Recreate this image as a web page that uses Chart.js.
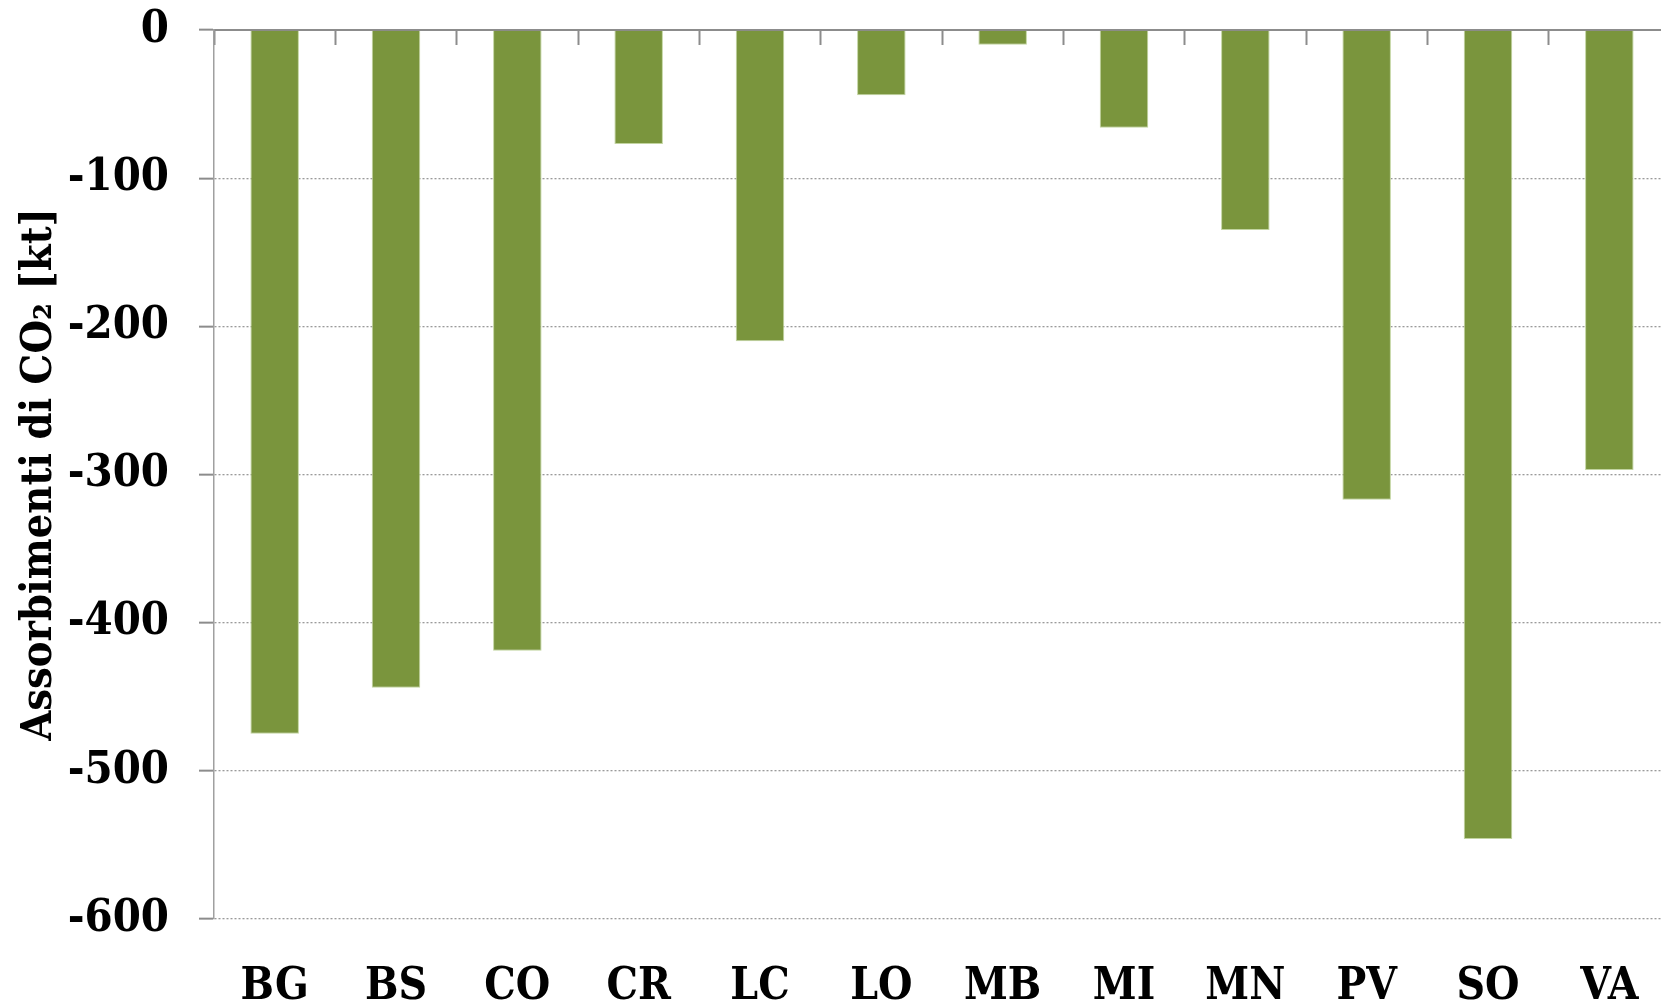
<!DOCTYPE html>
<html>
<head>
<meta charset="utf-8">
<script src="https://cdn.jsdelivr.net/npm/chart.js@4.4.1/dist/chart.umd.min.js"></script>
<style>
  html, body { margin: 0; padding: 0; background: #fff; overflow: hidden; }
  #wrap { position: absolute; left: 0; top: 0; width: 1700px; height: 1001px; }
</style>
</head>
<body>
<div id="wrap"><canvas id="chart"></canvas></div>
<script>
const PROVINCES = ['BG', 'BS', 'CO', 'CR', 'LC', 'LO', 'MB', 'MI', 'MN', 'PV', 'SO', 'VA'];
const ABSORPTION = [-475, -444, -419, -77, -210, -44, -10, -66, -135, -317, -546, -297];
const Y_MIN = -600, Y_MAX = 0, Y_STEP = 100;

const SERIF = '"DejaVu Serif Condensed", "DejaVu Serif", serif';
const AXIS_GREY = '#8c8c8c';

new Chart(document.getElementById('chart'), {
  type: 'bar',
  data: {
    labels: PROVINCES,
    datasets: [{
      data: ABSORPTION,
      backgroundColor: '#7a953d',
      borderColor: '#c2d4a0',
      borderWidth: 1,
      barPercentage: 0.4,
      categoryPercentage: 1,
      xAxisID: 'x',
      yAxisID: 'y'
    }]
  },
  options: {
    responsive: true,
    maintainAspectRatio: false,
    animation: false,
    layout: { padding: { top: 30, right: 30, left: 0, bottom: 0 } },
    plugins: { legend: { display: false }, tooltip: { enabled: false } },
    scales: {
      x: {
        position: 'bottom',
        offset: true,
        grid: { display: false },
        border: { display: false },
        ticks: { color: '#000', padding: 34, maxRotation: 0, font: { family: SERIF, weight: 'bold', size: 44 } },
        afterFit: s => { s.height = 82; }
      },
      x2: {
        type: 'category',
        position: 'top',
        offset: true,
        grid: { offset: true, drawOnChartArea: false, tickLength: -15, tickColor: AXIS_GREY, tickWidth: 2 },
        border: { display: true, color: AXIS_GREY, width: 2 },
        ticks: { display: false },
        afterFit: s => { s.height = 0; s.paddingLeft = 0; s.paddingRight = 0; }
      },
      y: {
        min: Y_MIN,
        max: Y_MAX,
        ticks: { stepSize: Y_STEP, color: '#000', padding: 30, font: { family: SERIF, weight: 'bold', size: 45 } },
        grid: { color: '#9a9a9a', lineWidth: 1.3, tickLength: 15, tickColor: AXIS_GREY, tickWidth: 2, tickBorderDash: [] },
        border: { display: true, color: '#a0a0a0', width: 1.5, dash: [2, 2] },
        title: {
          display: true,
          text: 'Assorbimenti di CO\u2082 [kt]',
          color: '#000',
          padding: { top: 14, bottom: 0 },
          font: { family: SERIF, weight: 'bold', size: 43 }
        },
        afterFit: s => { s.width = 214; s.paddingTop = 0; s.paddingBottom = 0; }
      }
    }
  }
});
</script>
</body>
</html>
